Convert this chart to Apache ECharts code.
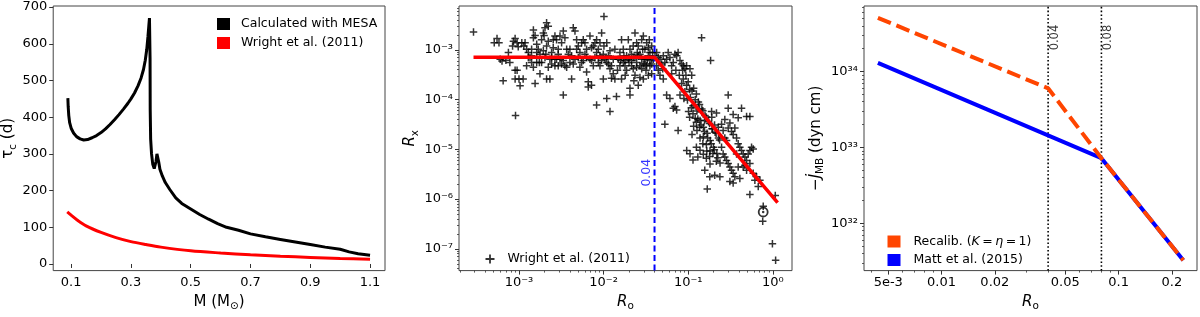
<!DOCTYPE html>
<html><head><meta charset="utf-8">
<script src="https://cdn.jsdelivr.net/npm/echarts@6/dist/echarts.min.js"></script>
<style>html,body{margin:0;padding:0;background:#fff}#c{width:1200px;height:317px}</style>
</head><body><div id="c"></div>
<script>
const FONT = 'DejaVu Sans';

// ---------- Panel (a): convective turnover time ----------
const mesaMass = [0.089,0.090,0.092,0.095,0.100,0.108,0.118,0.130,0.142,0.155,0.170,0.185,0.200,0.215,0.230,0.245,0.260,0.275,0.290,0.300,0.312,0.324,0.334,0.342,0.348,0.353,0.357,0.360,0.362,0.3635,0.364,0.3645,0.366,0.369,0.373,0.378,0.381,0.384,0.387,0.390,0.393,0.397,0.405,0.415,0.430,0.450,0.470,0.500,0.530,0.560,0.590,0.620,0.660,0.700,0.750,0.800,0.850,0.900,0.950,1.000,1.030,1.060,1.100];
const mesaTau  = [452,430,405,385,370,357,347,341,338,339,344,350,358,368,380,393,407,422,438,450,466,486,507,530,555,585,620,650,670,668,560,420,340,300,272,260,262,280,300,296,278,258,240,222,203,180,165,150,135,122,110,100,92,82,74,67,60,53,46,40,33,28,24];
const wrightMass = [0.087,0.10,0.12,0.15,0.20,0.25,0.30,0.35,0.40,0.50,0.60,0.70,0.80,0.90,1.00,1.10];
const wrightTau  = [142,133,120,104,86,72,61,53,46,36,30,25,21,18,15,13];
const massTicks = [0.1,0.3,0.5,0.7,0.9,1.1];
const tauTicks = [0,100,200,300,400,500,600,700];

// ---------- Panel (b): X-ray activity vs Rossby number ----------
const starPoints = [
[2.9e-4,2.3e-3],[5.1e-4,1.4e-3],[5.5e-4,1.7e-3],[5.8e-4,1.4e-3],[6.0e-4,6.5e-4],[6.3e-4,6.0e-4],[7.0e-4,6.2e-4],[6.5e-4,2.4e-4],[8.6e-4,1.5e-3],[9.0e-4,1.7e-3],[9.5e-4,1.4e-3],[8.4e-4,1.2e-3],[9.8e-4,1.16e-3],[9.0e-4,3.9e-4],[9.5e-4,3.9e-4],[9.0e-4,2.6e-4],[1.0e-3,2.6e-4],[1.03e-3,1.9e-4],[9.1e-4,4.8e-5],[7.5e-4,8.9e-4],[7.8e-4,5.6e-4],
[1.08e-3,1.4e-3],[1.14e-3,1.2e-3],[1.18e-3,1.4e-3],[1.23e-3,1.03e-3],[1.29e-3,8.9e-4],[1.35e-3,7.0e-4],[1.41e-3,5.6e-4],[1.48e-3,1.75e-3],[1.55e-3,1.95e-3],[1.48e-3,2.5e-3],[1.62e-3,1.3e-3],[1.69e-3,1.03e-3],[1.77e-3,8.2e-4],[1.85e-3,1.6e-3],[1.94e-3,2.2e-3],[1.98e-3,1.95e-3],[2.03e-3,2.8e-3],[2.12e-3,3.5e-3],[2.22e-3,3.0e-3],[2.12e-3,1.2e-3],[2.22e-3,1.5e-3],[2.32e-3,6.5e-4],[2.43e-3,5.2e-4],[2.54e-3,1.1e-3],[2.66e-3,4.8e-4],[2.78e-3,6.5e-4],[2.91e-3,1.03e-3],[3.05e-3,1.9e-3],[3.19e-3,1.4e-3],[3.34e-3,6.1e-4],[3.49e-3,4.8e-4],[3.66e-3,4.5e-4],[1.23e-3,4.8e-4],[1.48e-3,4.5e-4],[1.77e-3,3.3e-4],[1.55e-3,2.1e-4],[1.12e-3,2.6e-4],[1.29e-3,7.0e-4],[1.41e-3,1.03e-3],[1.62e-3,5.6e-4],[1.85e-3,5.6e-4],[2.32e-3,2.6e-4],[2.66e-3,1.9e-3],[2.78e-3,1.6e-3],[2.91e-3,4.8e-4],[3.34e-3,2.4e-3],[3.49e-3,1.75e-3],[3.66e-3,1.03e-3],[2.43e-3,8.9e-4],[2.54e-3,1.6e-3],[1.94e-3,9.6e-4],[1.74e-3,5.6e-4],[2.08e-3,8.2e-4],[2.22e-3,4.5e-4],[2.91e-3,8.2e-4],[3.34e-3,1.24e-4],[2.12e-3,2.6e-4],[1.62e-3,8.9e-4],[2.03e-3,7.0e-4],[2.43e-3,7.0e-4],[3.05e-3,6.5e-4],[3.19e-3,5.2e-4],[1.41e-3,7.6e-4],[2.66e-3,6.5e-4],
[3.83e-3,8.2e-4],[4.0e-3,1.03e-3],[4.19e-3,2.6e-4],[4.38e-3,2.8e-3],[4.59e-3,2.4e-3],[4.8e-3,1.03e-3],[5.02e-3,7.0e-4],[5.25e-3,8.9e-4],[5.5e-3,1.4e-3],[5.75e-3,1.6e-3],[6.02e-3,1.4e-3],[6.3e-3,3.6e-4],[6.59e-3,2.3e-4],[6.9e-3,6.5e-4],[7.2e-3,1.1e-3],[7.56e-3,1.2e-3],[7.9e-3,1.4e-3],[8.27e-3,8.9e-4],[8.66e-3,5.6e-4],[9.06e-3,4.8e-4],[9.48e-3,2.2e-3],[1.01e-2,4.7e-3],[1.01e-2,1.2e-3],[1.04e-2,6.5e-4],[1.09e-2,5.6e-4],[1.14e-2,7.6e-4],[1.19e-2,9.6e-4],[1.24e-2,4.8e-4],[1.30e-2,3.3e-4],[1.36e-2,2.6e-4],[1.42e-2,1.15e-4],[4.0e-3,5.6e-4],[4.38e-3,5.2e-4],[4.8e-3,1.6e-3],[5.25e-3,4.5e-4],[5.75e-3,6.1e-4],[6.3e-3,7.0e-4],[6.9e-3,1.9e-3],[7.56e-3,4.8e-4],[8.27e-3,1.6e-3],[9.06e-3,7.6e-4],[9.92e-3,8.2e-4],[1.09e-2,1.4e-3],[1.19e-2,4.2e-4],[1.30e-2,6.5e-4],[1.36e-2,1.03e-3],[6.59e-3,1.8e-4],[8.27e-3,7.8e-5],[1.19e-2,5.8e-5],[1.09e-2,1.06e-4],[7.2e-3,1.95e-4],[9.92e-3,2.6e-4],[1.24e-2,2.7e-4],[4.59e-3,6.5e-4],[5.5e-3,5.6e-4],[6.02e-3,8.2e-4],[7.2e-3,6.1e-4],[7.9e-3,7.0e-4],[8.66e-3,1.03e-3],[9.48e-3,6.1e-4],[1.14e-2,5.2e-4],[5.02e-3,1.2e-3],[4.19e-3,7.6e-4],[6.3e-3,1.03e-3],[9.06e-3,1.4e-3],
[1.49e-2,6.5e-4],[1.56e-2,8.9e-4],[1.63e-2,1.6e-3],[1.71e-2,5.6e-4],[1.79e-2,4.8e-4],[1.87e-2,7.6e-4],[1.96e-2,6.5e-4],[2.05e-2,1.03e-3],[2.14e-2,4.8e-4],[2.24e-2,4.2e-4],[2.35e-2,2.2e-3],[2.46e-2,1.4e-3],[2.57e-2,7.6e-4],[2.69e-2,4.8e-4],[2.82e-2,1.6e-3],[2.95e-2,1.9e-3],[3.08e-2,6.5e-4],[3.23e-2,4.8e-4],[3.38e-2,3.1e-4],[3.53e-2,8.9e-4],[3.7e-2,1.2e-3],[1.56e-2,4.8e-4],[1.63e-2,2.6e-4],[1.71e-2,1.03e-3],[1.87e-2,3.9e-4],[2.05e-2,1.7e-4],[2.24e-2,7.0e-4],[2.35e-2,3.1e-4],[2.46e-2,5.6e-4],[2.57e-2,1.2e-3],[2.69e-2,8.2e-4],[2.82e-2,4.2e-4],[2.95e-2,2.6e-4],[3.08e-2,1.03e-3],[3.23e-2,1.4e-3],[3.38e-2,7.6e-4],[3.53e-2,4.8e-4],[3.7e-2,3.3e-4],[3.87e-2,6.5e-4],[2.24e-2,1.2e-3],[1.96e-2,1.6e-3],[2.14e-2,8.2e-4],[2.46e-2,4.5e-4],[2.69e-2,2.8e-4],[2.95e-2,5.2e-4],[3.38e-2,1.1e-3],[3.53e-2,6.1e-4],[3.8e-2,8.9e-4],[2.0e-2,5.6e-4],[1.59e-2,6.1e-4],[1.74e-2,7.6e-4],[2.5e-2,8.9e-4],[2.9e-2,1.03e-3],[3.17e-2,3.9e-4],[3.47e-2,1.6e-3],[3.29e-2,6.5e-4],[1.46e-2,3.9e-4],[1.8e-2,3.1e-4],[2.28e-2,2.4e-4],[2.57e-2,1.95e-4],[2.05e-2,1.24e-4],[1.79e-2,6.1e-4],[2.14e-2,6.1e-4],[2.35e-2,7.0e-4],[2.82e-2,6.5e-4],[3.08e-2,5.2e-4],[3.7e-2,5.2e-4],
[4.05e-2,7.6e-4],[4.24e-2,8.9e-4],[4.43e-2,7.0e-4],[4.64e-2,6.5e-4],[4.85e-2,5.2e-4],[5.08e-2,7.6e-4],[5.3e-2,5.6e-4],[5.56e-2,6.5e-4],[5.8e-2,8.9e-4],[6.08e-2,7.0e-4],[6.37e-2,4.8e-4],[6.66e-2,5.6e-4],[6.97e-2,8.2e-4],[7.3e-2,7.6e-4],[7.6e-2,8.9e-4],[8.0e-2,6.1e-4],[8.36e-2,5.2e-4],[8.75e-2,4.8e-4],[9.15e-2,4.2e-4],[9.58e-2,4.8e-4],[4.24e-2,4.8e-4],[4.64e-2,3.1e-4],[5.08e-2,2.6e-4],[5.56e-2,1.24e-4],[6.08e-2,1.06e-4],[6.66e-2,6.7e-5],[6.97e-2,7.3e-5],[7.3e-2,6.2e-5],[8.0e-2,1.24e-4],[8.36e-2,2.1e-4],[8.75e-2,2.6e-4],[9.15e-2,1.44e-4],[9.58e-2,1.95e-4],[5.3e-2,3.2e-5],[4.43e-2,3.9e-4],[5.0e-2,4.2e-4],[6.37e-2,3.3e-4],[7.15e-2,3.9e-4],[7.85e-2,3.1e-4],[8.6e-2,3.9e-4],[9.4e-2,3.1e-4],[7.6e-2,2.4e-5],[0.144,1.75e-3],[0.184,6.1e-4],[0.105,4.2e-4],[0.110,3.1e-4],
[0.100,2.3e-4],[0.104,1.6e-4],[0.111,1.5e-4],[0.116,1.7e-4],[0.121,1.0e-4],[0.125,1.3e-4],[0.132,9.0e-5],[0.136,8.0e-5],[0.145,6.5e-5],[0.149,6.0e-5],[0.158,4.8e-5],[0.163,4.5e-5],[0.174,3.6e-5],[0.179,3.3e-5],[0.191,2.6e-5],[0.195,2.6e-5],[0.208,2.2e-5],[0.214,2.1e-5],[0.228,1.7e-5],[0.235,1.55e-5],[0.106,1.1e-4],[0.114,7.5e-5],[0.127,5.9e-5],[0.130,4.1e-5],[0.138,3.8e-5],[0.142,3.1e-5],[0.151,2.8e-5],[0.156,2.3e-5],[0.167,2.1e-5],[0.170,1.7e-5],[0.182,1.5e-5],[0.187,1.3e-5],[0.199,1.1e-5],[0.204,9.8e-6],[0.218,8.3e-6],[0.224,6.8e-6],[0.114,5.2e-5],[0.121,4.2e-5],[0.125,3.5e-5],[0.136,2.8e-5],[0.151,1.8e-5],[0.164,1.25e-5],[0.181,9.3e-6],[0.196,8.3e-6],[0.215,5.8e-6],[0.238,5.3e-6],[0.109,6.9e-5],[0.132,6.5e-5],[0.156,3.8e-5],[0.190,4.4e-5],[0.205,3.1e-5],[0.227,2.8e-5],[0.104,4.4e-5],[0.116,2.9e-5],[0.127,2.4e-5],[0.138,1.7e-5],[0.149,1.3e-5],[0.166,9.3e-6],[0.179,7.2e-6],[0.125,1.1e-5],[0.138,9.6e-6],[0.151,8.0e-6],[0.164,6.6e-6],[0.181,5.1e-6],[0.096,9.5e-6],[0.105,8.2e-6],[0.114,6.1e-6],[0.130,7.0e-6],[0.157,3.8e-6],[0.189,5.8e-5],[0.216,5.4e-5],[0.098,9.8e-5],[0.089,1.06e-4],[0.101,5.8e-5],[0.111,2.0e-5],[0.168,1.6e-6],[0.206,3.0e-6],[0.180,2.8e-6],[0.237,2.8e-6],
[0.248,3.2e-5],[0.259,2.4e-5],[0.271,1.7e-5],[0.284,1.5e-5],[0.297,2.7e-5],[0.311,3.4e-5],[0.325,2.3e-5],[0.340,2.0e-5],[0.356,2.7e-5],[0.373,1.7e-5],[0.390,1.3e-5],[0.408,1.1e-5],[0.427,9.5e-6],[0.447,8.1e-6],[0.468,7.0e-6],[0.490,6.0e-6],[0.512,8.1e-6],[0.536,9.5e-6],[0.561,1.1e-5],[0.587,1.02e-5],[0.248,1.1e-5],[0.259,8.1e-6],[0.271,7.0e-6],[0.284,6.0e-6],[0.297,5.2e-6],[0.311,4.4e-6],[0.325,3.8e-6],[0.340,3.3e-6],[0.356,2.8e-6],[0.390,4.4e-6],[0.447,4.4e-6],[0.490,3.8e-6],[0.536,5.2e-6],[0.587,3.3e-6],[0.643,2.8e-6],[0.704,2.4e-6],[0.311,2.25e-6],[0.340,2.1e-6],[0.297,6.7e-5],[0.271,4.0e-5],[0.340,5.0e-5],[0.390,4.3e-5],[0.297,1.24e-4],[0.427,6.7e-5],[0.490,4.6e-5],[0.536,4.6e-5],[0.408,2.6e-6],[0.536,1.24e-6],[0.614,2.4e-6],[0.673,1.8e-6],[0.771,7.2e-7],[0.76,3.6e-7],[1.07,1.18e-6],[0.99,1.27e-7],[1.08,5.9e-8],[0.373,8.1e-6],[0.468,4.8e-6]
];
const fitRo = [2.9e-4, 0.04, 1.14];
const fitRx = [7.1e-4, 7.1e-4, 8.5e-7];
const saturationRo = 0.04;
const sunPoint = [0.77, 5.5e-7];
const roTicksB = [1e-3, 1e-2, 1e-1, 1];
const rxTicks = [1e-7, 1e-6, 1e-5, 1e-4, 1e-3];

// ---------- Panel (c): magnetic braking torque ----------
const mattRo = [0.00437, 0.08, 0.232];
const mattTorque = [1.3e34, 7.2e32, 3.25e31];
const recalRo = [0.00437, 0.04, 0.08, 0.232];
const recalTorque = [5.1e34, 6.0e33, 7.2e32, 3.25e31];
const breakRo = [0.04, 0.08];
const roTicksC = [0.005, 0.01, 0.02, 0.05, 0.1, 0.2];
const roLabelsC = ['5e-3', '0.01', '0.02', '0.05', '0.1', '0.2'];
const torqueTicks = [1e32, 1e33, 1e34];

// ---------- layout ----------
const P = Math.pow;
const extB = {x: [P(10, -3.709), P(10, 0.227)], y: [P(10, -7.438), P(10, -2.117)]};
const extC = {x: [P(10, -2.438), P(10, -0.557)], y: [P(10, 31.376), P(10, 34.863)]};
const SUP = {'0':'⁰','1':'¹','2':'²','3':'³','4':'⁴','5':'⁵','6':'⁶','7':'⁷','8':'⁸','9':'⁹','-':'⁻'};
const pow10 = v => '10' + String(Math.round(Math.log10(v))).split('').map(c => SUP[c]).join('');
function minorTicks(lo, hi, skip) {
  const out = [];
  for (let e = Math.floor(Math.log10(lo)) - 1; e <= Math.ceil(Math.log10(hi)); e++) {
    for (let k = 1; k <= 9; k++) {
      const v = k * P(10, e);
      if (v >= lo && v <= hi && !skip.some(s => Math.abs(s / v - 1) < 1e-6)) out.push(v);
    }
  }
  return out;
}
const zip = (a, b) => a.map((v, i) => [v, b[i]]);

const tickStyle = {show: true, length: 4, lineStyle: {color: '#333', width: 1}};
const lbl = {color: '#000', fontFamily: FONT, fontSize: 13};
const nameRich = {
  n: {fontFamily: FONT, fontSize: 15, color: '#000', lineHeight: 20, verticalAlign: 'middle'},
  i: {fontFamily: FONT, fontSize: 15, color: '#000', fontStyle: 'italic', lineHeight: 20, verticalAlign: 'middle'},
  s: {fontFamily: FONT, fontSize: 10.5, color: '#000', lineHeight: 20, verticalAlign: 'bottom'}
};
const nameStyle = {rich: nameRich, fontFamily: FONT, fontSize: 15, color: '#000'};

function mainAxis(grid, type, ext, ticks, fmt, extra) {
  return Object.assign({
    gridIndex: grid, type: type, min: ext[0], max: ext[1],
    logBase: 10,
    axisLine: {show: false},
    axisTick: Object.assign({customValues: ticks}, tickStyle),
    axisLabel: Object.assign({customValues: ticks, formatter: fmt, margin: 6}, lbl),
    splitLine: {show: false}, minorTick: {show: false}
  }, extra || {});
}
function minorAxis(grid, ext, ticks, pos) {
  return {
    gridIndex: grid, type: 'log', logBase: 10, min: ext[0], max: ext[1], position: pos,
    axisLine: {show: false},
    axisTick: {show: true, length: 2, customValues: ticks, lineStyle: {color: '#333', width: 0.8}},
    axisLabel: {show: false}, splitLine: {show: false}
  };
}

const grids = [
  {left: 52, top: 6, width: 333, height: 269.5},
  {left: 459, top: 6, width: 333, height: 269.5},
  {left: 864, top: 6, width: 333, height: 269.5}
].map(g => Object.assign(g, {show: true, borderColor: '#444', borderWidth: 1, backgroundColor: 'transparent'}));

const crossPath = 'path://M4.8,0h2.4v4.8h4.8v2.4h-4.8v4.8h-2.4v-4.8h-4.8v-2.4h4.8z';
const TS = '\u2009';

const option = {
  animation: false,
  backgroundColor: '#fff',
  grid: grids,
  xAxis: [
    mainAxis(0, 'value', [0.04, 1.15], massTicks, v => v.toFixed(1),
      {name: '{n|M (M}{s|⊙}{n|)}', nameLocation: 'middle', nameGap: 18, nameTextStyle: nameStyle}),
    mainAxis(1, 'log', extB.x, roTicksB, pow10,
      {name: '{i|R}{s|o}', nameLocation: 'middle', nameGap: 20, nameTextStyle: nameStyle}),
    mainAxis(2, 'log', extC.x, roTicksC, v => roLabelsC[roTicksC.findIndex(t => Math.abs(t / v - 1) < 1e-6)] || '',
      {name: '{i|R}{s|o}', nameLocation: 'middle', nameGap: 20, nameTextStyle: nameStyle}),
    minorAxis(1, extB.x, minorTicks(extB.x[0], extB.x[1], roTicksB), 'bottom'),
    minorAxis(2, extC.x, minorTicks(extC.x[0], extC.x[1], roTicksC), 'bottom')
  ],
  yAxis: [
    mainAxis(0, 'value', [-18, 703], tauTicks, v => String(v),
      {name: '{n|τ}{s|c}{n| (d)}', nameLocation: 'middle', nameGap: 25, nameTextStyle: nameStyle}),
    mainAxis(1, 'log', extB.y, rxTicks, pow10,
      {name: '{i|R}{s|x}', nameLocation: 'middle', nameGap: 34, nameTextStyle: nameStyle}),
    mainAxis(2, 'log', extC.y, torqueTicks, pow10,
      {name: '{n|−}{i|J̇}{s|MB}{n| (dyn cm)}', nameLocation: 'middle', nameGap: 38, nameTextStyle: nameStyle}),
    minorAxis(1, extB.y, minorTicks(extB.y[0], extB.y[1], rxTicks), 'left'),
    minorAxis(2, extC.y, minorTicks(extC.y[0], extC.y[1], torqueTicks), 'left')
  ],
  legend: [
    {
      data: ['mesa', 'wrightCurve'], orient: 'vertical', left: 212, top: 12,
      icon: 'rect', itemWidth: 13, itemHeight: 12, itemGap: 5,
      itemStyle: {borderWidth: 0},
      formatter: n => ({mesa: 'Calculated with MESA', wrightCurve: 'Wright et al. (2011)'}[n]),
      textStyle: {fontFamily: FONT, fontSize: 12.5, color: '#000', lineHeight: 14, padding: [0, 0, 0, 6]},
      selectedMode: false
    },
    {
      data: ['stars'], orient: 'vertical', left: 480.5, top: 247,
      icon: crossPath, itemWidth: 9, itemHeight: 9,
      itemStyle: {borderWidth: 0},
      formatter: () => 'Wright et al. (2011)',
      textStyle: {fontFamily: FONT, fontSize: 12.5, color: '#000', lineHeight: 14, padding: [0, 0, 0, 8]},
      selectedMode: false
    },
    {
      data: ['recalib', 'matt'], orient: 'vertical', left: 882.5, top: 229.5,
      icon: 'rect', itemWidth: 13, itemHeight: 12, itemGap: 4.5,
      itemStyle: {borderWidth: 0},
      formatter: n => n === 'recalib' ? '{n|Recalib. (}{i|K}{n|' + TS + '=' + TS + '}{i|η}{n|' + TS + '=' + TS + '1)}' : '{n|Matt et al. (2015)}',
      textStyle: {fontFamily: FONT, fontSize: 12.5, color: '#000', lineHeight: 14, padding: [0, 0, 0, 8],
        rich: {n: {fontFamily: FONT, fontSize: 12.5, color: '#000'}, i: {fontFamily: FONT, fontSize: 12.5, color: '#000', fontStyle: 'italic'}}},
      selectedMode: false
    }
  ],
  series: [
    // panel (a)
    {name: 'mesa', type: 'line', xAxisIndex: 0, yAxisIndex: 0, data: zip(mesaMass, mesaTau),
      showSymbol: false, lineStyle: {color: '#000', width: 3}, itemStyle: {color: '#000'}, z: 3},
    {name: 'wrightCurve', type: 'line', xAxisIndex: 0, yAxisIndex: 0, data: zip(wrightMass, wrightTau), smooth: 0.3,
      showSymbol: false, lineStyle: {color: '#ff0000', width: 3}, itemStyle: {color: '#ff0000'}, z: 3},
    // panel (b)
    {name: 'stars', type: 'scatter', xAxisIndex: 1, yAxisIndex: 1, data: starPoints,
      symbol: crossPath, symbolSize: 7.5, itemStyle: {color: '#000'}, z: 2},
    {name: 'sat', type: 'line', xAxisIndex: 1, yAxisIndex: 1,
      data: [[saturationRo, extB.y[0]], [saturationRo, extB.y[1]]], showSymbol: false,
      lineStyle: {color: '#0000ff', width: 2, type: [6, 3.5]}, z: 3},
    {name: 'fit', type: 'line', xAxisIndex: 1, yAxisIndex: 1, data: zip(fitRo, fitRx), showSymbol: false,
      lineStyle: {color: '#ff0000', width: 3.5}, z: 4},
    {name: 'sunRing', type: 'scatter', xAxisIndex: 1, yAxisIndex: 1, data: [sunPoint], symbol: 'circle', symbolSize: 9,
      itemStyle: {color: 'rgba(0,0,0,0)', borderColor: '#000', borderWidth: 1.8}, z: 5},
    {name: 'sunDot', type: 'scatter', xAxisIndex: 1, yAxisIndex: 1, data: [sunPoint], symbol: 'circle', symbolSize: 2.5,
      itemStyle: {color: '#000'}, z: 5},
    {name: 'satLabel', type: 'scatter', xAxisIndex: 1, yAxisIndex: 1, data: [[saturationRo, 3.4e-6]], symbolSize: 0,
      label: {show: true, formatter: '0.04', rotate: 90, position: 'inside', offset: [0, -8],
        color: '#0000ff', fontFamily: FONT, fontSize: 12.5}, z: 6},
    // panel (c)
    ...breakRo.map(r => ({name: 'break' + r, type: 'line', xAxisIndex: 2, yAxisIndex: 2,
      data: [[r, extC.y[0]], [r, extC.y[1]]], showSymbol: false,
      lineStyle: {color: '#000', width: 1.6, type: [1.6, 2.2]}, z: 2})),
    {name: 'matt', type: 'line', xAxisIndex: 2, yAxisIndex: 2, data: zip(mattRo, mattTorque), showSymbol: false,
      lineStyle: {color: '#0000ff', width: 4}, itemStyle: {color: '#0000ff'}, z: 3},
    {name: 'recalib', type: 'line', xAxisIndex: 2, yAxisIndex: 2, data: zip(recalRo, recalTorque), showSymbol: false,
      lineStyle: {color: '#ff4500', width: 4, type: [14, 6]}, itemStyle: {color: '#ff4500'}, z: 4},
    {name: 'breakLabels', type: 'scatter', xAxisIndex: 2, yAxisIndex: 2, data: breakRo.map(r => [r, 2.8e34]), symbolSize: 0,
      label: {show: true, formatter: p => String(p.value[0]), rotate: 90, position: 'inside', offset: [0, 7],
        color: '#000', fontFamily: FONT, fontSize: 11.5}, z: 6}
  ]
};

const chart = echarts.init(document.getElementById('c'), null, {renderer: 'canvas'});
chart.setOption(option);
</script>
</body></html>
